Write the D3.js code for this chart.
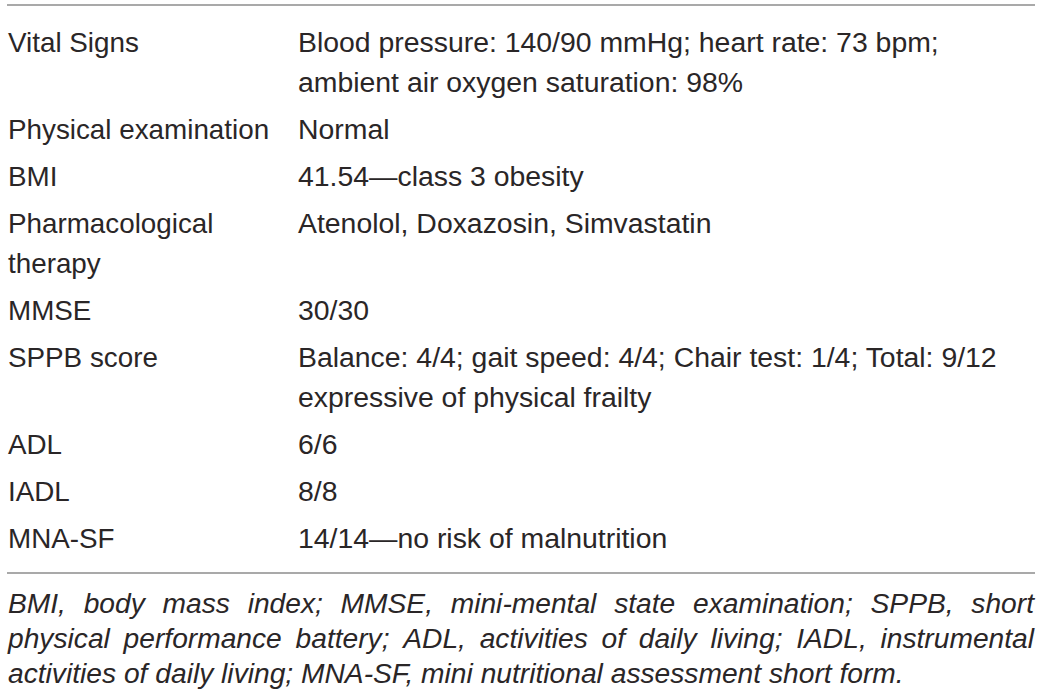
<!DOCTYPE html>
<html>
<head>
<meta charset="utf-8">
<script src="https://cdn.jsdelivr.net/npm/d3@7/dist/d3.min.js"></script>
<style>
  html, body { margin: 0; padding: 0; background: #fff; }
  svg text { font-family: "Liberation Sans", Arial, sans-serif; fill: #2a2627; }
  .label { font-size: 27.8px; }
  .value { font-size: 28.4px; }
  .note { font-size: 28.2px; font-style: italic; }
</style>
</head>
<body>
<div id="table"></div>
<script>
// table rows: label lines and value lines
var rowLabels = [
    ["Vital Signs"],
    ["Physical examination"],
    ["BMI"],
    ["Pharmacological", "therapy"],
    ["MMSE"],
    ["SPPB score"],
    ["ADL"],
    ["IADL"],
    ["MNA-SF"]
];
var rowValues = [
    ["Blood pressure: 140/90 mmHg; heart rate: 73 bpm;", "ambient air oxygen saturation: 98%"],
    ["Normal"],
    ["41.54\u2014class 3 obesity"],
    ["Atenolol, Doxazosin, Simvastatin"],
    ["30/30"],
    ["Balance: 4/4; gait speed: 4/4; Chair test: 1/4; Total: 9/12", "expressive of physical frailty"],
    ["6/6"],
    ["8/8"],
    ["14/14\u2014no risk of malnutrition"]
];
var footnoteLines = [
    "BMI, body mass index; MMSE, mini-mental state examination; SPPB, short",
    "physical performance battery; ADL, activities of daily living; IADL, instrumental",
    "activities of daily living; MNA-SF, mini nutritional assessment short form."
];

var width = 1041, height = 697;
var left = 7, right = 1035;
var colX = d3.scaleOrdinal().domain(["label", "value"]).range([8, 298]);

var svg = d3.select("#table").append("svg").attr("width", width).attr("height", height);

// flatten rows into lines with a row index and a running line index
var lines = [];
var lineNo = 0;
rowLabels.forEach(function(lab, r) {
    var n = Math.max(lab.length, rowValues[r].length);
    for (var k = 0; k < n; k++) {
        lines.push({row: r, line: lineNo + k, label: lab[k] || "", value: rowValues[r][k] || ""});
    }
    lineNo += n;
});

// baseline: 40px per text line, 7px extra per row
var yLine = d3.scaleLinear().domain([0, 1]).range([51.5, 91.5]);
var yRow = d3.scaleLinear().domain([0, 1]).range([0, 7]);
var baseline = function(d) { return yLine(d.line) + yRow(d.row); };

svg.append("line").attr("x1", left).attr("x2", right).attr("y1", 5).attr("y2", 5)
    .attr("stroke", "#8c8c8c").attr("stroke-width", 1.5);

var g = svg.append("g");
g.selectAll("text.label").data(lines.filter(function(d) { return d.label; })).enter()
    .append("text").attr("class", "label")
    .attr("x", colX("label")).attr("y", baseline).text(function(d) { return d.label; });
g.selectAll("text.value").data(lines.filter(function(d) { return d.value; })).enter()
    .append("text").attr("class", "value")
    .attr("x", colX("value")).attr("y", baseline).text(function(d) { return d.value; });

var lastBase = baseline(lines[lines.length - 1]);
var ruleY = lastBase + 25.5;
svg.append("line").attr("x1", left).attr("x2", right).attr("y1", ruleY).attr("y2", ruleY)
    .attr("stroke", "#8c8c8c").attr("stroke-width", 1.5);

// footnote, justified except the last line
var noteX0 = 8, noteX1 = 1034;
var yNote = d3.scaleLinear().domain([0, 1]).range([ruleY + 39.5, ruleY + 74.5]);
var note = svg.append("g");
footnoteLines.forEach(function(txt, i) {
    var words = txt.split(" ");
    var ws = note.selectAll(null).data(words).enter().append("text")
        .attr("class", "note").attr("y", yNote(i)).text(function(w) { return w; });
    var lens = [];
    ws.each(function() { lens.push(this.getComputedTextLength()); });
    var space = 28.2 * 0.278;
    if (i < footnoteLines.length - 1) {
        space = (noteX1 - noteX0 - d3.sum(lens)) / (words.length - 1);
    }
    var x = noteX0;
    ws.attr("x", function(w, j) {
        var px = x;
        x += lens[j] + space;
        return px;
    });
});
</script>
</body>
</html>
